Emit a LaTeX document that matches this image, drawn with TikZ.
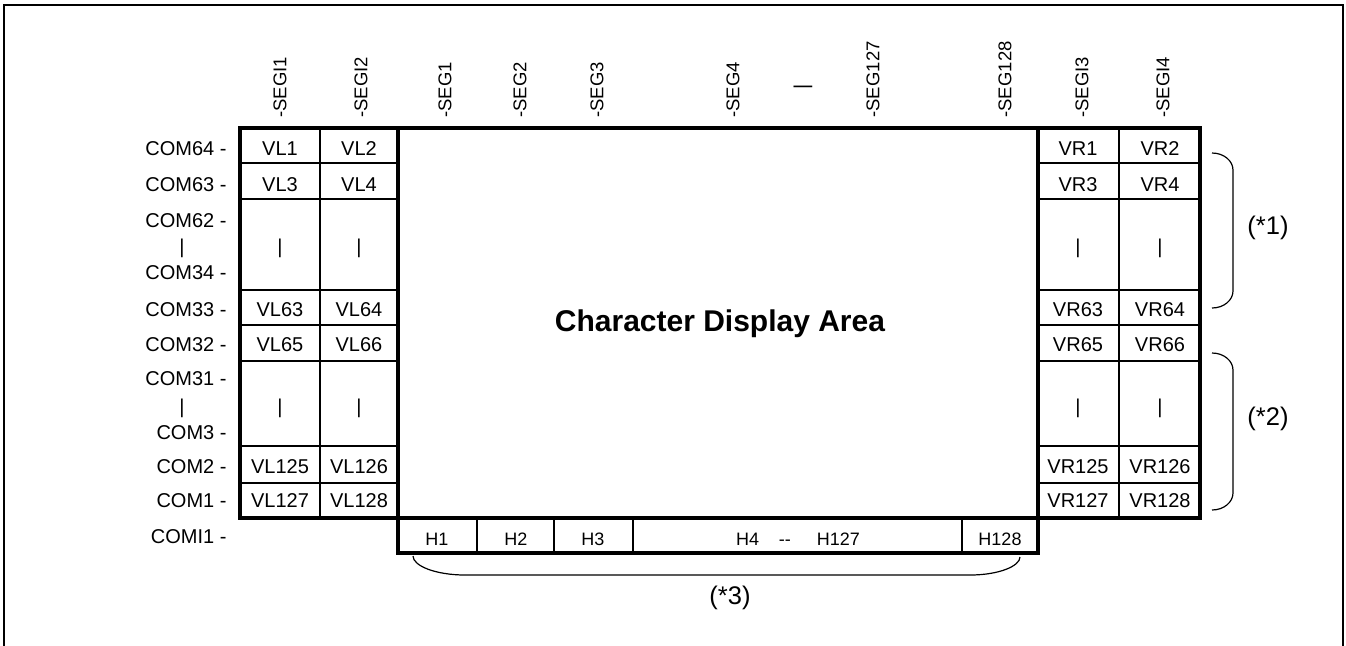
\documentclass[tikz,border=0pt]{standalone}
\usepackage{fontspec}
\setmainfont{Liberation Sans}
\usetikzlibrary{positioning}
\tikzset{every picture/.style={line width=0.5pt}}
\tikzset{
  txt/.style={font=\fontsize{10}{12}\selectfont, inner sep=0pt},
  smalltxt/.style={font=\fontsize{9}{11}\selectfont, inner sep=0pt},
  notetxt/.style={font=\fontsize{12.75}{15}\selectfont, inner sep=0pt},
  comlabel/.style={txt, anchor=east},
  seglabel/.style={font=\fontsize{9.25}{11}\selectfont, inner sep=0pt, rotate=90, anchor=west},
  gridheavy/.style={line width=1.7pt},
  gridmid/.style={line width=1.2pt},
  gridthin/.style={line width=0.75pt},
  bracket/.style={line width=0.6pt},
}

\begin{document}
\begin{tikzpicture}[x=0.5pt,y=-0.5pt]
    \useasboundingbox (0,0) rectangle (1346,645);

    % Frame, open at the bottom
    \draw[line width=1pt] (4,660) -- (4,5) -- (1343,5) -- (1343,660);

    % Segment labels on top
    \foreach \x/\t [count=\i] in {280/-SEGI1, 361/-SEGI2, 445/-SEG1, 520/-SEG2, 597/-SEG3,
                                  733/-SEG4, 873/-SEG127, 1005/-SEG128, 1082/-SEGI3, 1163/-SEGI4}
        \node[seglabel] (seg\i) at (\x,118) {\t};
    \node[txt, rotate=90] (segdots) at (803,87) {|};

    % Row grid of the side blocks
    \foreach \xa/\xb/\xm in {240/398/320, 1038/1200/1119} {
        \draw[gridthin] (\xm,128) -- (\xm,518);
        \foreach \y in {163, 325}
            \draw[gridthin] (\xa,\y) -- (\xb,\y);
        \foreach \y in {199, 290, 361, 446, 483}
            \draw[gridmid] (\xa,\y) -- (\xb,\y);
    }

    % Horizontal icon row
    \foreach \x in {477, 554}
        \draw[gridthin] (\x,518) -- (\x,553);
    \foreach \x in {633, 962}
        \draw[gridmid] (\x,518) -- (\x,553);

    % Heavy outlines
    \draw[gridheavy] (240,128) rectangle (398,518);
    \draw[gridheavy] (1038,128) rectangle (1200,518);
    \draw[gridheavy] (398,128) rectangle (1038,518);
    \draw[gridheavy] (398,518) rectangle (1038,553);

    % Common labels
    \foreach \y/\t [count=\i] in {149/COM64 -, 185/COM63 -, 221/COM62 -, 273/COM34 -,
                                  310/COM33 -, 345/COM32 -, 379/COM31 -, 433/COM3 -,
                                  467/COM2 -, 501/COM1 -, 537/COMI1 -}
        \node[comlabel] (com\i) at (227,\y) {\t};
    \node[txt] (comdotsa) at (182,248) {|};
    \node[txt] (comdotsb) at (182,408) {|};

    % Left icons
    \foreach \y/\a/\b [count=\r] in {149/VL1/VL2, 185/VL3/VL4, 248/|/|, 310/VL63/VL64,
                                     345/VL65/VL66, 408/|/|, 467/VL125/VL126, 501/VL127/VL128} {
        \node[txt] (vl\r a) at (280,\y) {\a};
        \node[txt] (vl\r b) at (359,\y) {\b};
    }

    % Right icons
    \foreach \y/\a/\b [count=\r] in {149/VR1/VR2, 185/VR3/VR4, 248/|/|, 310/VR63/VR64,
                                     345/VR65/VR66, 408/|/|, 467/VR125/VR126, 501/VR127/VR128} {
        \node[txt] (vr\r a) at (1078,\y) {\a};
        \node[txt] (vr\r b) at (1160,\y) {\b};
    }

    % Display area
    \node[font=\fontsize{15}{18}\selectfont\bfseries, inner sep=0pt] (area) at (720,324) {Character Display Area};

    % Bottom icons
    \node[smalltxt] (h1) at (437,539) {H1};
    \node[smalltxt] (h2) at (516,539) {H2};
    \node[smalltxt] (h3) at (593,539) {H3};
    \node[smalltxt] (h4) at (798,539) {H4\hspace{1.1em}-{}-\hspace{1.45em}H127};
    \node[smalltxt] (h128) at (1000,539) {H128};

    % Brackets
    \draw[bracket] (1212,153) .. controls (1224,153) and (1233,161) .. (1233,170)
        -- (1233,291) .. controls (1233,300) and (1224,308) .. (1212,308);
    \node[notetxt] (note1) at (1268,228) {(*1)};
    \draw[bracket] (1212,353) .. controls (1224,353) and (1233,361) .. (1233,370)
        -- (1233,493) .. controls (1233,502) and (1224,510) .. (1212,510);
    \node[notetxt] (note2) at (1268,419) {(*2)};
    \draw[bracket] (413,556) .. controls (413,566) and (436,575) .. (465,575)
        -- (970,575) .. controls (999,575) and (1020,566) .. (1020,557);
    \node[notetxt] (note3) at (730,598) {(*3)};
\end{tikzpicture}
\end{document}
